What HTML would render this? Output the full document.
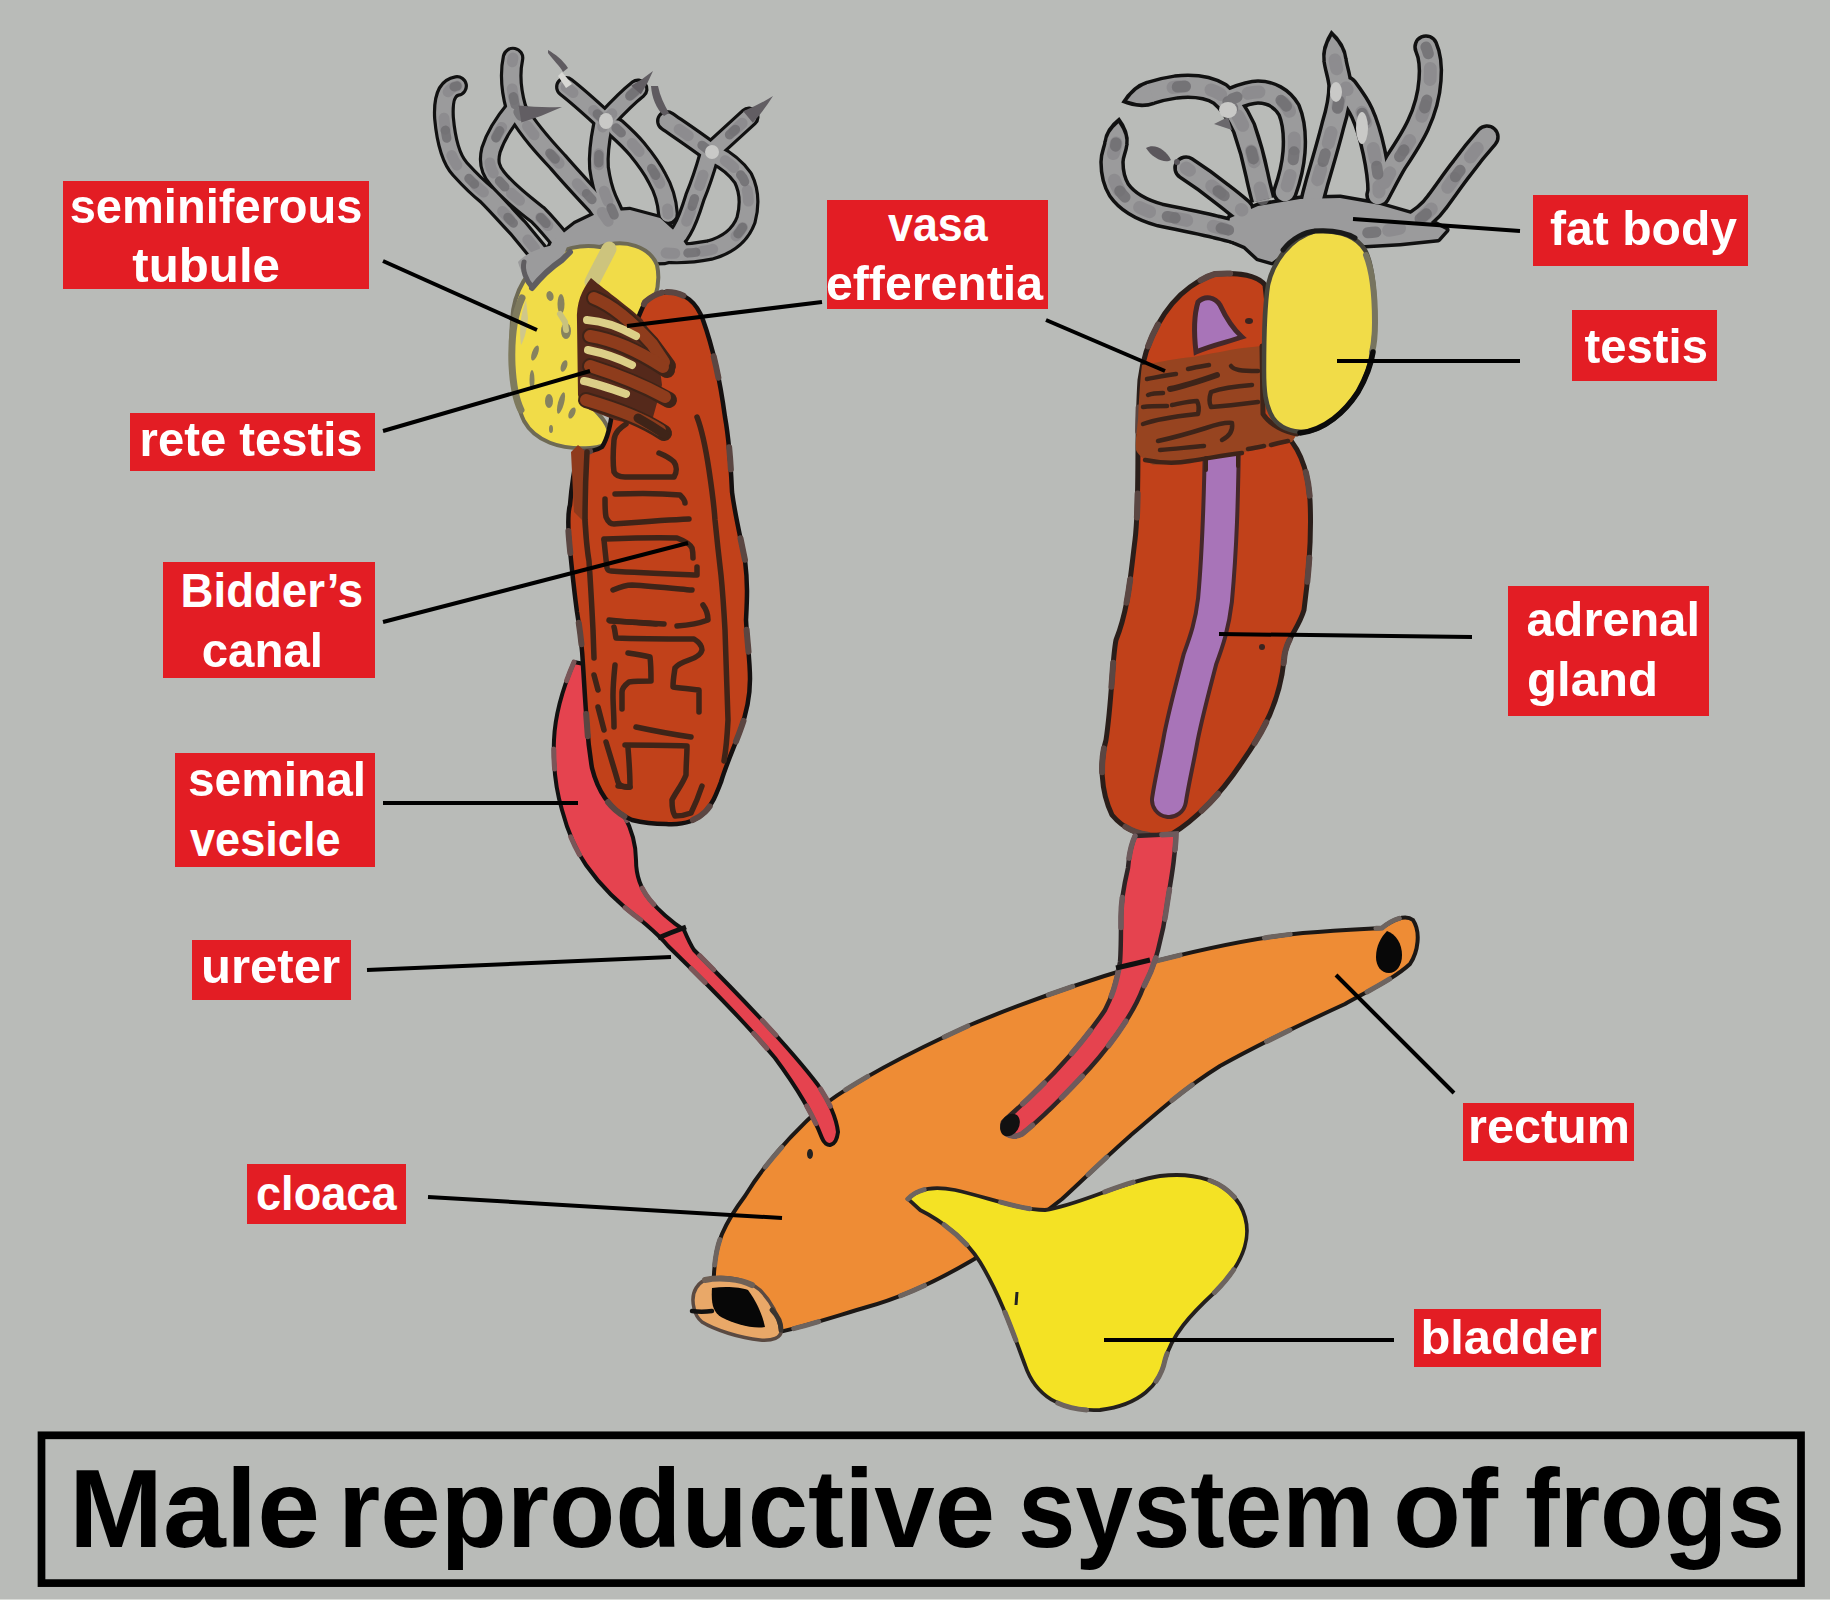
<!DOCTYPE html>
<html><head><meta charset="utf-8"><title>Male reproductive system of frogs</title>
<style>
html,body{margin:0;padding:0;background:#b9bbb8;}
body{width:1830px;height:1600px;overflow:hidden;}
svg{display:block;}
.lb{fill:#e31d24;}
.lt{font-family:"Liberation Sans",sans-serif;font-weight:bold;font-size:49px;fill:#fff;}
.ln{stroke:#000;stroke-width:4;fill:none;}
</style></head><body>
<svg width="1830" height="1600" viewBox="0 0 1830 1600">
<rect width="1830" height="1600" fill="#b9bbb8"/>

<!-- ORGANS -->
<g id="organs">
<!-- CLOACA / RECTUM -->
<defs><path id="clo" d="M775,1333 C745,1335 716,1322 714,1292 C713,1268 716,1248 722,1234 C728,1220 736,1208 745,1196 C762,1168 790,1135 825,1104 C860,1078 915,1050 970,1025 C1030,1000 1090,980 1137,966 C1190,952 1250,938 1303,933 C1340,930 1365,929 1382,928 C1392,920 1405,914 1413,920 C1421,932 1418,952 1410,964 C1395,978 1370,990 1345,1004 C1310,1020 1260,1044 1220,1066 C1185,1088 1160,1110 1130,1136 C1105,1158 1085,1178 1062,1199 C1030,1225 1000,1245 971,1261 C935,1282 900,1298 867,1307 C830,1318 800,1328 775,1333 Z"/></defs>
<use href="#clo" fill="#ee8c35" stroke="#1c1816" stroke-width="4"/>
<use href="#clo" fill="none" stroke="#6d6460" stroke-width="5" stroke-dasharray="26 86" stroke-dashoffset="3" stroke-linecap="round"/>
<path d="M694,1308 C690,1292 698,1280 712,1278 C730,1276 748,1280 760,1290 C770,1300 778,1315 781,1330 C782,1338 772,1341 760,1340 C740,1338 715,1330 702,1322 C697,1318 695,1313 694,1308 Z" fill="#e9a868" stroke="#5a4a42" stroke-width="3.5"/>
<path d="M705,1280 C720,1277 740,1279 752,1285" fill="none" stroke="#6e6056" stroke-width="6" stroke-linecap="round"/>
<path d="M712,1288 C725,1286 740,1287 748,1290 C756,1301 762,1313 765,1327 C752,1329 735,1324 721,1317 C713,1312 711,1304 712,1288 Z" fill="#070707"/>
<path d="M692,1311 C698,1312 705,1312 712,1311" fill="none" stroke="#111" stroke-width="4.5" stroke-linecap="round"/>
<path d="M772,1310 C778,1316 781,1324 781,1330" fill="none" stroke="#3a3430" stroke-width="5" stroke-linecap="round"/>
<path d="M1387,931 C1396,934 1402,944 1402,955 C1402,966 1396,973 1389,973 C1381,973 1376,966 1376,957 C1376,946 1381,937 1387,931 Z" fill="#080808"/>
<ellipse cx="810" cy="1154" rx="3" ry="5" fill="#222"/>

<!-- FAT BODIES -->
<g id="lfb" fill="none" stroke-linecap="round" stroke-linejoin="round">
 <g stroke="#111">
  <path d="M457,86 C446,88 443,100 444,118 C446,140 450,158 460,169 C470,180 478,188 487,195 C500,208 510,220 518,228 C528,240 536,250 546,262" stroke-width="21.9"/>
  <path d="M513,58 C510,72 511,90 516,108" stroke-width="22.7"/>
  <path d="M516,108 C506,120 496,134 491,150 C488,162 490,170 497,178 C508,192 525,205 538,215 C548,225 556,235 565,246" stroke-width="21.9"/>
  <path d="M518,112 C530,132 545,148 558,162 C570,176 583,190 597,205 C602,212 606,218 610,224" stroke-width="22.7"/>
  <path d="M566,87 C580,98 593,110 605,121" stroke-width="21.9"/>
  <path d="M603,125 C600,140 598,155 599,168 C601,182 604,192 607,199 C611,208 614,214 617,222" stroke-width="21.9"/>
  <path d="M616,128 C626,137 632,143 637,149 C646,160 652,168 657,178 C664,190 667,200 668,214" stroke-width="21.9"/>
  <path d="M667,121 C680,130 695,140 711,152" stroke-width="21.9"/>
  <path d="M607,119 C618,107 628,97 638,89" stroke-width="21.1"/>
  <path d="M714,149 C726,138 738,127 749,117" stroke-width="21.1"/>
  <path d="M709,156 C705,170 700,185 695,197 C691,210 688,220 682,230 C680,234 678,236 676,238" stroke-width="21.9"/>
  <path d="M714,154 C726,160 736,168 743,178 C749,190 750,205 746,220 C740,236 728,245 710,250 C695,253 680,254 666,253" stroke-width="21.9"/>
 </g>
 <path d="M543,262 L552,242 L575,224 L600,212 L630,210 L660,218 L680,236 L692,254 L665,262 L600,264 L560,272 Z" fill="#9b9b9c" stroke="#111" stroke-width="6.4"/>
 <g stroke="#9b9b9c">
  <path d="M457,86 C446,88 443,100 444,118 C446,140 450,158 460,169 C470,180 478,188 487,195 C500,208 510,220 518,228 C528,240 536,250 546,262" stroke-width="15.5"/>
  <path d="M513,58 C510,72 511,90 516,108" stroke-width="16.3"/>
  <path d="M516,108 C506,120 496,134 491,150 C488,162 490,170 497,178 C508,192 525,205 538,215 C548,225 556,235 565,246" stroke-width="15.5"/>
  <path d="M518,112 C530,132 545,148 558,162 C570,176 583,190 597,205 C602,212 606,218 610,224" stroke-width="16.3"/>
  <path d="M566,87 C580,98 593,110 605,121" stroke-width="15.5"/>
  <path d="M603,125 C600,140 598,155 599,168 C601,182 604,192 607,199 C611,208 614,214 617,222" stroke-width="15.5"/>
  <path d="M616,128 C626,137 632,143 637,149 C646,160 652,168 657,178 C664,190 667,200 668,214" stroke-width="15.5"/>
  <path d="M667,121 C680,130 695,140 711,152" stroke-width="15.5"/>
  <path d="M607,119 C618,107 628,97 638,89" stroke-width="14.7"/>
  <path d="M714,149 C726,138 738,127 749,117" stroke-width="14.7"/>
  <path d="M709,156 C705,170 700,185 695,197 C691,210 688,220 682,230 C680,234 678,236 676,238" stroke-width="15.5"/>
  <path d="M714,154 C726,160 736,168 743,178 C749,190 750,205 746,220 C740,236 728,245 710,250 C695,253 680,254 666,253" stroke-width="15.5"/>
 </g>
 <path d="M543,262 L552,242 L575,224 L600,212 L630,210 L660,218 L680,236 L692,254 L665,262 L600,264 L560,272 Z" fill="#9b9b9c" stroke="none" transform="translate(0,0)"/>
 <g stroke="#858387" stroke-width="10.8" stroke-dasharray="11 27" opacity="0.6">
  <path d="M457,86 C446,88 443,100 444,118 C446,140 450,158 460,169 C470,180 478,188 487,195 C500,208 510,220 518,228 C528,240 536,250 546,262" stroke-dashoffset="0"/>
  <path d="M513,58 C510,72 511,90 516,108" stroke-dashoffset="7"/>
  <path d="M516,108 C506,120 496,134 491,150 C488,162 490,170 497,178 C508,192 525,205 538,215 C548,225 556,235 565,246" stroke-dashoffset="14"/>
  <path d="M518,112 C530,132 545,148 558,162 C570,176 583,190 597,205 C602,212 606,218 610,224" stroke-dashoffset="21"/>
  <path d="M566,87 C580,98 593,110 605,121" stroke-dashoffset="2"/>
  <path d="M603,125 C600,140 598,155 599,168 C601,182 604,192 607,199 C611,208 614,214 617,222" stroke-dashoffset="9"/>
  <path d="M616,128 C626,137 632,143 637,149 C646,160 652,168 657,178 C664,190 667,200 668,214" stroke-dashoffset="16"/>
  <path d="M667,121 C680,130 695,140 711,152" stroke-dashoffset="23"/>
  <path d="M607,119 C618,107 628,97 638,89" stroke-dashoffset="4"/>
  <path d="M714,149 C726,138 738,127 749,117" stroke-dashoffset="11"/>
  <path d="M709,156 C705,170 700,185 695,197 C691,210 688,220 682,230 C680,234 678,236 676,238" stroke-dashoffset="18"/>
  <path d="M714,154 C726,160 736,168 743,178 C749,190 750,205 746,220 C740,236 728,245 710,250 C695,253 680,254 666,253" stroke-dashoffset="25"/>
 </g>
 <g stroke="#6f6d71" stroke-width="9.3" stroke-dasharray="8 47" opacity="0.8">
  <path d="M457,86 C446,88 443,100 444,118 C446,140 450,158 460,169 C470,180 478,188 487,195 C500,208 510,220 518,228 C528,240 536,250 546,262" stroke-dashoffset="5"/>
  <path d="M513,58 C510,72 511,90 516,108" stroke-dashoffset="16"/>
  <path d="M516,108 C506,120 496,134 491,150 C488,162 490,170 497,178 C508,192 525,205 538,215 C548,225 556,235 565,246" stroke-dashoffset="27"/>
  <path d="M518,112 C530,132 545,148 558,162 C570,176 583,190 597,205 C602,212 606,218 610,224" stroke-dashoffset="3"/>
  <path d="M566,87 C580,98 593,110 605,121" stroke-dashoffset="14"/>
  <path d="M603,125 C600,140 598,155 599,168 C601,182 604,192 607,199 C611,208 614,214 617,222" stroke-dashoffset="25"/>
  <path d="M616,128 C626,137 632,143 637,149 C646,160 652,168 657,178 C664,190 667,200 668,214" stroke-dashoffset="1"/>
  <path d="M667,121 C680,130 695,140 711,152" stroke-dashoffset="12"/>
  <path d="M607,119 C618,107 628,97 638,89" stroke-dashoffset="23"/>
  <path d="M714,149 C726,138 738,127 749,117" stroke-dashoffset="34"/>
  <path d="M709,156 C705,170 700,185 695,197 C691,210 688,220 682,230 C680,234 678,236 676,238" stroke-dashoffset="10"/>
  <path d="M714,154 C726,160 736,168 743,178 C749,190 750,205 746,220 C740,236 728,245 710,250 C695,253 680,254 666,253" stroke-dashoffset="21"/>
 </g>
 <path d="M521.4,122.4 Q542.0,116.4 562,107 Q540.6,108.0 518.6,105.6 Z" fill="#625e63"/>
 <path d="M640.8,94.3 Q647.9,83.5 653,71 Q643.0,79.2 631.2,85.7 Z" fill="#625e63"/>
 <path d="M752.8,122.7 Q763.9,110.5 773,96 Q759.1,104.8 743.2,111.3 Z" fill="#625e63"/>
 <path d="M548,53 C553,60 560,66 563,72 L568,68 C563,60 555,54 548,50 Z" fill="#5f5b60"/>
 <path d="M562,72 L572,84 L566,88 L558,76 Z" fill="#d8d8d4"/>
 <path d="M651,86 C652,98 656,108 664,116 L669,113 C664,104 660,96 658,86 Z" fill="#5f5b60"/>
 <ellipse cx="606" cy="121" rx="7" ry="8" fill="#c9c9c7"/>
 <ellipse cx="712" cy="152" rx="7" ry="7" fill="#c9c9c7"/>
</g>
<g id="rfb" fill="none" stroke-linecap="round" stroke-linejoin="round">
 <path d="M1146.4,80.7 Q1131.7,85.1 1121.3,102.6 Q1140.1,110.3 1154.5,104.9 Z" fill="#111"/>
 <path d="M1347.7,58.9 Q1346.3,43.6 1331.2,29.9 Q1320.0,46.9 1322.4,62.1 Z" fill="#111"/>
 <path d="M1128.6,145.1 Q1130.8,131.8 1119.3,116.9 Q1104.4,128.6 1103.3,141.9 Z" fill="#111"/>
 <g stroke="#111">
  <path d="M1116,143 C1115,151 1112,154 1112,162 C1112,172 1113,180 1119,190 C1128,203 1142,210 1160,215 C1180,219 1200,223 1216,227 C1225,229 1232,231 1240,233" stroke-width="25.5" stroke-linecap="butt"/>
  <path d="M1186,168 C1200,177 1212,186 1222,194 C1230,200 1236,205 1242,210" stroke-width="25.5"/>
  <path d="M1150,93 C1156,91 1162,89 1176,87 C1195,85 1210,88 1220,94 C1230,102 1238,115 1244,128 C1250,145 1254,160 1257,175 C1259,185 1261,192 1263,200" stroke-width="25.5" stroke-linecap="butt"/>
  <path d="M1232,99 C1242,95 1250,92 1258,92 C1270,92 1282,98 1289,110 C1294,122 1295,138 1294,152 C1293,165 1290,178 1285,192" stroke-width="25.5"/>
  <path d="M1335,60 C1336,68 1339,75 1340,85 C1340,100 1337,112 1333,125 C1328,145 1322,165 1317,182 C1315,190 1313,196 1312,202" stroke-width="25.5" stroke-linecap="butt"/>
  <path d="M1346,88 C1352,96 1358,104 1362,113 C1367,124 1371,138 1374,152 C1377,166 1379,180 1379,192" stroke-width="25.5"/>
  <path d="M1426,47 C1430,56 1431,68 1430,80 C1429,95 1425,110 1418,125 C1412,138 1404,150 1396,162 C1390,172 1385,182 1378,195" stroke-width="25.5"/>
  <path d="M1487,137 C1479,146 1470,157 1462,168 C1454,178 1446,190 1437,202 C1430,212 1420,220 1408,226 C1395,230 1380,232 1364,233" stroke-width="25.5"/>
 </g>
 <path d="M1226,238 L1230,218 L1258,206 L1300,199 L1340,198 L1380,205 L1418,216 L1446,230 L1438,239 L1400,243 L1365,245 L1305,241 L1288,250 L1272,262 L1258,258 L1245,246 Z" fill="#9b9b9c" stroke="#111" stroke-width="7.0"/>
 <g stroke="#9b9b9c">
  <path d="M1116,143 C1115,151 1112,154 1112,162 C1112,172 1113,180 1119,190 C1128,203 1142,210 1160,215 C1180,219 1200,223 1216,227 C1225,229 1232,231 1240,233" stroke-width="18.5" stroke-linecap="butt"/>
  <path d="M1186,168 C1200,177 1212,186 1222,194 C1230,200 1236,205 1242,210" stroke-width="18.5"/>
  <path d="M1150,93 C1156,91 1162,89 1176,87 C1195,85 1210,88 1220,94 C1230,102 1238,115 1244,128 C1250,145 1254,160 1257,175 C1259,185 1261,192 1263,200" stroke-width="18.5" stroke-linecap="butt"/>
  <path d="M1232,99 C1242,95 1250,92 1258,92 C1270,92 1282,98 1289,110 C1294,122 1295,138 1294,152 C1293,165 1290,178 1285,192" stroke-width="18.5"/>
  <path d="M1335,60 C1336,68 1339,75 1340,85 C1340,100 1337,112 1333,125 C1328,145 1322,165 1317,182 C1315,190 1313,196 1312,202" stroke-width="18.5" stroke-linecap="butt"/>
  <path d="M1346,88 C1352,96 1358,104 1362,113 C1367,124 1371,138 1374,152 C1377,166 1379,180 1379,192" stroke-width="18.5"/>
  <path d="M1426,47 C1430,56 1431,68 1430,80 C1429,95 1425,110 1418,125 C1412,138 1404,150 1396,162 C1390,172 1385,182 1378,195" stroke-width="18.5"/>
  <path d="M1487,137 C1479,146 1470,157 1462,168 C1454,178 1446,190 1437,202 C1430,212 1420,220 1408,226 C1395,230 1380,232 1364,233" stroke-width="18.5"/>
 </g>
 <path d="M1226,238 L1230,218 L1258,206 L1300,199 L1340,198 L1380,205 L1418,216 L1446,230 L1438,239 L1400,243 L1365,245 L1305,241 L1288,250 L1272,262 L1258,258 L1245,246 Z" fill="#9b9b9c" stroke="none" transform="translate(0,0)"/>
 <path d="M1148.0,83.9 Q1136.0,87.5 1127.2,100.6 Q1142.1,105.8 1153.9,101.5 Z" fill="#9b9b9c"/>
 <path d="M1344.3,59.8 Q1343.1,47.4 1332.0,36.2 Q1324.0,49.8 1325.9,62.1 Z" fill="#9b9b9c"/>
 <path d="M1125.1,145.1 Q1126.7,134.8 1118.5,123.2 Q1107.6,132.4 1106.7,142.8 Z" fill="#9b9b9c"/>
 <g stroke="#858387" stroke-width="12.9" stroke-dasharray="11 27" opacity="0.6">
  <path d="M1116,143 C1115,151 1112,154 1112,162 C1112,172 1113,180 1119,190 C1128,203 1142,210 1160,215 C1180,219 1200,223 1216,227 C1225,229 1232,231 1240,233" stroke-dashoffset="0"/>
  <path d="M1186,168 C1200,177 1212,186 1222,194 C1230,200 1236,205 1242,210" stroke-dashoffset="7"/>
  <path d="M1150,93 C1156,91 1162,89 1176,87 C1195,85 1210,88 1220,94 C1230,102 1238,115 1244,128 C1250,145 1254,160 1257,175 C1259,185 1261,192 1263,200" stroke-dashoffset="14"/>
  <path d="M1232,99 C1242,95 1250,92 1258,92 C1270,92 1282,98 1289,110 C1294,122 1295,138 1294,152 C1293,165 1290,178 1285,192" stroke-dashoffset="21"/>
  <path d="M1335,60 C1336,68 1339,75 1340,85 C1340,100 1337,112 1333,125 C1328,145 1322,165 1317,182 C1315,190 1313,196 1312,202" stroke-dashoffset="2"/>
  <path d="M1346,88 C1352,96 1358,104 1362,113 C1367,124 1371,138 1374,152 C1377,166 1379,180 1379,192" stroke-dashoffset="9"/>
  <path d="M1426,47 C1430,56 1431,68 1430,80 C1429,95 1425,110 1418,125 C1412,138 1404,150 1396,162 C1390,172 1385,182 1378,195" stroke-dashoffset="16"/>
  <path d="M1487,137 C1479,146 1470,157 1462,168 C1454,178 1446,190 1437,202 C1430,212 1420,220 1408,226 C1395,230 1380,232 1364,233" stroke-dashoffset="23"/>
 </g>
 <g stroke="#6f6d71" stroke-width="11.1" stroke-dasharray="8 47" opacity="0.8">
  <path d="M1116,143 C1115,151 1112,154 1112,162 C1112,172 1113,180 1119,190 C1128,203 1142,210 1160,215 C1180,219 1200,223 1216,227 C1225,229 1232,231 1240,233" stroke-dashoffset="5"/>
  <path d="M1186,168 C1200,177 1212,186 1222,194 C1230,200 1236,205 1242,210" stroke-dashoffset="16"/>
  <path d="M1150,93 C1156,91 1162,89 1176,87 C1195,85 1210,88 1220,94 C1230,102 1238,115 1244,128 C1250,145 1254,160 1257,175 C1259,185 1261,192 1263,200" stroke-dashoffset="27"/>
  <path d="M1232,99 C1242,95 1250,92 1258,92 C1270,92 1282,98 1289,110 C1294,122 1295,138 1294,152 C1293,165 1290,178 1285,192" stroke-dashoffset="3"/>
  <path d="M1335,60 C1336,68 1339,75 1340,85 C1340,100 1337,112 1333,125 C1328,145 1322,165 1317,182 C1315,190 1313,196 1312,202" stroke-dashoffset="14"/>
  <path d="M1346,88 C1352,96 1358,104 1362,113 C1367,124 1371,138 1374,152 C1377,166 1379,180 1379,192" stroke-dashoffset="25"/>
  <path d="M1426,47 C1430,56 1431,68 1430,80 C1429,95 1425,110 1418,125 C1412,138 1404,150 1396,162 C1390,172 1385,182 1378,195" stroke-dashoffset="1"/>
  <path d="M1487,137 C1479,146 1470,157 1462,168 C1454,178 1446,190 1437,202 C1430,212 1420,220 1408,226 C1395,230 1380,232 1364,233" stroke-dashoffset="12"/>
 </g>
 <path d="M1146,148 C1155,143 1166,150 1171,160 C1165,164 1152,158 1146,148 Z" fill="#5b575c"/>
 <circle cx="1177" cy="162" r="3" fill="#5b575c"/>
 <path d="M1214,124 L1228,117 L1232,130 Z" fill="#6a686c"/>
 <ellipse cx="1228" cy="110" rx="9" ry="8" fill="#c9c9c7"/>
 <ellipse cx="1336" cy="92" rx="6" ry="10" fill="#c9c9c7"/>
 <ellipse cx="1362" cy="128" rx="6" ry="16" fill="#c9c9c7"/>
</g>
<!-- LEFT SEMINAL VESICLE + URETER -->
<defs><path id="lsv" d="M574,662 C562,690 555,715 554,740 C553,765 556,790 562,810 C566,825 572,845 586,865 C600,885 620,905 642,921 C650,928 660,936 668,946 C700,977 740,1016 775,1058 C795,1085 812,1112 822,1138 C826,1148 836,1148 838,1132 C836,1115 828,1100 818,1085 C790,1048 740,996 694,950 C690,944 687,937 684,930 C672,922 660,912 650,900 C640,888 636,875 636,860 C636,845 632,830 624,815 C610,790 596,760 590,730 C586,705 584,685 584,664 Z"/></defs>
<use href="#lsv" fill="#e5434f" stroke="#111" stroke-width="4"/>
<use href="#lsv" fill="none" stroke="#7a5658" stroke-width="5" stroke-dasharray="20 70" stroke-dashoffset="0" stroke-linecap="round"/>
<path d="M658,938 C665,935 675,931 686,927" stroke="#111" stroke-width="5" fill="none"/>

<!-- LEFT TESTIS -->
<defs><path id="lts" d="M550,257 C562,249 580,244 600,247 C625,238 650,247 657,265 C662,288 652,308 642,320 L600,300 L590,405 C600,415 610,425 610,438 C606,446 598,448 590,448 C560,450 535,441 524,421 C512,396 510,352 512,320 C514,290 528,268 550,257 Z"/></defs>
<use href="#lts" fill="#f1dc48" stroke="#6e6a55" stroke-width="4"/>
<!-- stem patch --><path d="M518,262 C528,251 548,244 568,244 L562,260 C552,268 542,276 534,288 C527,282 521,273 518,262 Z" fill="#9b9b9c"/><path d="M532,288 C540,278 550,268 562,260 L570,252" stroke="#5f5d60" stroke-width="6" fill="none" stroke-linecap="round"/><path d="M524,262 C522,270 526,280 532,287" stroke="#5f5d60" stroke-width="5" fill="none" stroke-linecap="round"/>
<path d="M522,298 C514,315 511,340 512,365 C513,385 516,400 521,410" fill="none" stroke="#7e7a5e" stroke-width="7" stroke-linecap="round"/>
<path d="M526,300 C520,315 519,330 521,345 C524,340 527,330 528,318 Z" fill="#cfc78a"/>
<g fill="#86825f">
 <ellipse cx="550" cy="296" rx="3.5" ry="5" transform="rotate(-15 550 296)"/>
 <ellipse cx="561" cy="304" rx="3.5" ry="10"/>
 <ellipse cx="566" cy="331" rx="5" ry="8"/>
 <ellipse cx="535" cy="353" rx="3" ry="8" transform="rotate(20 535 353)"/>
 <ellipse cx="564" cy="366" rx="3" ry="6" transform="rotate(20 564 366)"/>
 <ellipse cx="532" cy="380" rx="2.5" ry="10"/>
 <ellipse cx="549" cy="401" rx="4" ry="7"/>
 <ellipse cx="561" cy="403" rx="3" ry="11" transform="rotate(15 561 403)"/>
 <ellipse cx="572" cy="413" rx="3" ry="6" transform="rotate(25 572 413)"/>
 <ellipse cx="551" cy="429" rx="2" ry="4"/>
</g>
<path d="M560,314 L565,322 L566,330" stroke="#c9c27e" stroke-width="6" fill="none" stroke-linecap="round"/>
<path d="M609,249 C604,259 598,270 592,282" stroke="#cdc47d" stroke-width="15" fill="none" stroke-linecap="round"/>
<!-- LEFT KIDNEY -->
<defs><path id="lkd" d="M667,292 C685,292 697,303 703,320 C712,345 720,380 725,417 C730,445 731,470 732,492 C735,515 740,535 745,560 C748,585 747,600 746,620 C747,640 750,660 750,679 C750,700 746,715 740,731 C733,750 726,765 721,782 C716,795 712,805 705,812 C695,822 680,825 666,824 C650,824 640,822 632,820 C620,815 612,808 605,798 C598,788 595,780 592,768 C589,750 588,740 587,725 C585,700 584,680 583,665 C582,645 580,630 577,612 C574,590 572,570 570,550 C568,530 567,515 570,505 C572,480 575,465 578,452 C588,452 596,451 602,447 C608,438 611,424 613,405 C620,370 632,330 645,302 C652,296 660,292 667,292 Z"/></defs>
<use href="#lkd" fill="#c1411a" stroke="#141010" stroke-width="4.5"/>
<use href="#lkd" fill="none" stroke="#5b4642" stroke-width="6" stroke-dasharray="22 70" stroke-dashoffset="5" stroke-linecap="round"/>
<path d="M571,452 L578,445 L586,452 L588,520 L590,560 L586,560 L582,520 L574,512 Z" fill="#8f3a1c"/>
<!-- left rete -->
<path d="M591,278 C600,286 620,300 642,319 L656,340 L662,385 L650,428 L615,420 L590,410 C584,405 579,400 578,395 L577,322 C576,302 582,290 591,278 Z" fill="#55291b"/>
<g stroke-linecap="round" fill="none">
 <g stroke="#3f2418" stroke-width="16">
  <path d="M594,298 C612,305 632,322 652,344 L668,366"/>
  <path d="M590,336 C615,340 640,352 667,370"/>
  <path d="M590,366 C615,374 645,386 669,400"/>
  <path d="M586,400 C610,407 640,417 664,433"/>
 </g>
 <g stroke="#8e3c1c" stroke-width="12">
  <path d="M594,298 C612,305 632,322 652,344 L664,362"/>
  <path d="M590,336 C615,340 640,352 663,367"/>
  <path d="M590,366 C615,374 645,386 665,397"/>
  <path d="M586,400 C610,407 640,417 660,430"/>
 </g>
 <path d="M587,320 C602,321 618,326 636,336" stroke="#dccf88" stroke-width="8"/>
 <path d="M588,350 C603,353 618,358 632,365" stroke="#dccf88" stroke-width="8"/>
 <path d="M584,381 C598,384 612,389 626,394" stroke="#dccf88" stroke-width="8"/>
</g>
<g stroke="#3f2418" stroke-width="5.5" fill="none" stroke-linecap="round" stroke-linejoin="round">
 <path d="M697,417 C702,430 706,450 709,470 C712,490 714,505 715,520 C717,540 719,558 721,575 C723,595 724,612 725,630 C726,660 727,690 728,720 C727,740 726,750 724,761"/>
 <path d="M587,452 C586,470 585,500 585,520 C586,540 588,555 589,561 C591,590 592,610 593,630 L594,658"/>
 <path d="M638,418 C645,422 655,428 664,434" stroke-width="9"/>
 <path d="M626,424 C620,428 615,432 614,440 C613,452 613,465 614,472 C616,476 620,477 625,477 C640,477 660,477 674,477 C677,472 677,466 674,462 C670,458 664,455 659,453"/>
 <path d="M615,494 C640,493 660,493 680,495 C683,498 685,500 685,503"/>
 <path d="M605,499 C605,505 605,512 606,517 C608,522 610,524 614,524 C640,522 665,520 689,519"/>
 <path d="M604,539 C630,538 655,537 677,538 C685,541 690,544 692,548 C693,552 693,556 693,558"/>
 <path d="M604,540 C605,550 606,560 607,568 C608,571 609,571 611,571 C640,573 670,574 697,575 L697,567"/>
 <path d="M613,590 C620,587 625,585 632,585 C650,586 670,588 692,590"/>
 <path d="M609,620 C625,622 640,623 656,624"/>
 <path d="M677,626 C690,625 700,623 708,620 C708,614 706,609 703,605"/>
 <path d="M610,621 C630,622 650,623 664,624"/>
 <path d="M614,627 C615,630 615,634 616,638 C640,639 670,639 694,639 C699,642 702,646 702,650 C701,655 695,658 689,660 C683,662 678,664 675,668 C674,675 673,680 673,687 C680,688 690,689 699,690 L699,712"/>
 <path d="M628,653 C635,654 642,655 650,657 C651,665 651,673 651,681 C643,681 636,681 629,682 C625,685 622,688 622,692 L622,709"/>
 <path d="M615,665 C614,675 613,685 613,695 C613,705 614,715 614,727"/>
 <path d="M594,675 L598,690 M598,707 L604,730 M606,742 C610,755 614,768 618,782 C620,786 625,788 630,787"/>
 <path d="M636,727 C650,730 670,734 691,737"/>
 <path d="M625,745 C645,745 665,745 687,746 C687,755 686,765 686,775 C682,785 676,792 672,800 C672,808 673,813 675,816 C681,816 686,815 691,813 C695,805 699,795 702,786"/>
 <path d="M628,748 C629,760 630,775 630,787 L618,786"/>
</g>
<!-- RIGHT KIDNEY -->
<defs><path id="rkd" d="M1215,274 C1240,272 1258,276 1265,285 L1280,430 C1300,445 1308,470 1310,500 C1312,540 1308,580 1304,610 C1298,630 1285,640 1284,660 C1280,700 1265,730 1240,765 C1220,795 1195,820 1172,834 C1150,838 1128,834 1112,815 C1100,790 1100,760 1106,740 C1112,700 1112,660 1116,640 C1128,610 1130,580 1135,540 C1140,500 1136,440 1140,380 C1145,340 1165,305 1190,287 C1200,280 1208,276 1215,274 Z"/></defs>
<use href="#rkd" fill="#c1411a" stroke="#2a1e1a" stroke-width="5"/>
<use href="#rkd" fill="none" stroke="#5b4642" stroke-width="6" stroke-dasharray="24 62" stroke-dashoffset="9" stroke-linecap="round"/>
<!-- adrenal strip -->
<path d="M1222,440 C1221,500 1220,545 1215,600 C1212,625 1207,640 1200,659 C1192,690 1186,712 1181,737 C1177,760 1172,780 1169,800" fill="none" stroke="#45282a" stroke-width="38" stroke-linecap="round"/>
<path d="M1222,440 C1221,500 1220,545 1215,600 C1212,625 1207,640 1200,659 C1192,690 1186,712 1181,737 C1177,760 1172,780 1169,800" fill="none" stroke="#a874b8" stroke-width="30" stroke-linecap="round"/>
<!-- right rete band -->
<path d="M1142,365 C1160,362 1178,358 1193,357 C1210,354 1228,350 1243,348 L1262,346 L1263,414 C1270,425 1285,432 1297,434 L1292,442 C1280,444 1270,446 1255,450 C1240,453 1222,456 1204,458 C1188,461 1170,465 1153,465 C1145,460 1138,455 1136,450 C1135,440 1137,430 1138,420 C1139,400 1140,380 1142,365 Z" fill="#974420"/>
<g stroke="#3e2419" fill="none" stroke-linecap="round" stroke-linejoin="round" stroke-width="4.5">
 <path d="M1147,379 C1158,377 1168,375 1176,374"/>
 <path d="M1188,369 C1196,367 1203,366 1209,365"/>
 <path d="M1170,389 C1185,386 1200,381 1217,375" stroke-width="6"/>
 <path d="M1231,366 C1234,370 1240,371 1258,371"/>
 <path d="M1148,395 C1153,393 1158,393 1163,393"/>
 <path d="M1252,385 C1238,386 1222,388 1211,392 C1209,398 1209,403 1211,407 C1225,406 1242,404 1258,402"/>
 <path d="M1172,405 C1182,403 1190,401 1197,401 C1199,405 1199,410 1198,414 C1180,416 1160,418 1143,424"/>
 <path d="M1143,407 C1150,406 1160,406 1167,406"/>
 <path d="M1158,441 C1172,438 1190,433 1206,428 C1215,425 1225,422 1232,423 C1233,430 1230,436 1222,440"/>
 <path d="M1160,450 C1175,449 1190,447 1204,446"/>
 <path d="M1248,449 C1254,448 1259,447 1264,446 M1271,445 C1278,443 1283,442 1288,441"/>
 <path d="M1145,460 C1160,463 1175,464 1190,461 C1210,458 1225,455 1242,453"/>
 <path d="M1262,346 L1263,414 C1270,425 1285,432 1297,434" stroke-width="5"/>
 <path d="M1206,458 L1206,470 M1238,456 L1238,466" stroke-width="4"/>
</g>
<!-- adrenal top blob -->
<path d="M1198,302 C1205,295 1215,297 1220,305 C1226,318 1232,328 1242,337 C1228,342 1212,345 1196,352 C1194,335 1194,315 1198,302 Z" fill="#a874b8" stroke="#45282a" stroke-width="5"/>
<ellipse cx="1249" cy="321" rx="4" ry="3" fill="#3a2420"/>
<ellipse cx="1262" cy="647" rx="3" ry="3" fill="#3a2420"/>
<!-- RIGHT TESTIS -->
<defs><path id="rts" d="M1315,231 C1338,230 1356,235 1365,250 C1373,265 1375,295 1375,322 C1374,350 1370,372 1358,392 C1345,412 1325,430 1305,432 C1290,432 1280,428 1273,418 C1265,405 1264,390 1264,370 C1264,340 1264,310 1268,285 C1273,262 1290,238 1315,231 Z"/></defs>
<use href="#rts" fill="#f1dc48" stroke="#46443c" stroke-width="4.5"/>
<path d="M1366,255 C1372,270 1375,295 1375,322 C1375,335 1374,345 1372,352" fill="none" stroke="#77745f" stroke-width="6" stroke-linecap="round"/>
<path d="M1300,433 C1325,430 1345,412 1358,392 C1366,378 1371,365 1373,352" fill="none" stroke="#0b0b0b" stroke-width="5.5" stroke-linecap="round"/>
<path d="M1283,250 C1292,238 1305,232 1315,231 C1330,230 1345,232 1355,238" fill="none" stroke="#1a1a1a" stroke-width="5" stroke-linecap="round"/>
<!-- RIGHT URETER -->
<defs><path id="rur" d="M1135,836 C1131,845 1129,855 1128,868 C1124,885 1121,900 1121,917 C1121,935 1121,950 1120,962 C1117,980 1113,995 1105,1010 C1085,1040 1060,1068 1035,1092 C1022,1105 1010,1115 1003,1122 C1000,1132 1010,1140 1022,1134 C1040,1120 1065,1095 1090,1068 C1115,1040 1135,1010 1143,988 C1150,975 1155,962 1158,950 C1162,935 1165,920 1167,905 C1170,885 1173,870 1174,858 C1175,850 1176,842 1176,834 Z"/></defs>
<use href="#rur" fill="#e5434f" stroke="#2e2526" stroke-width="4.5"/>
<use href="#rur" fill="none" stroke="#6e5a5c" stroke-width="5.5" stroke-dasharray="30 40" stroke-dashoffset="7" stroke-linecap="round"/>
<path d="M1116,968 C1125,966 1138,963 1150,960" stroke="#111" stroke-width="5" fill="none"/>
<ellipse cx="1010" cy="1125" rx="9" ry="12" transform="rotate(30 1010 1125)" fill="#111"/>

<!-- BLADDER -->
<defs><path id="bla" d="M908,1199 C918,1188 935,1186 955,1190 C990,1198 1020,1210 1045,1210 C1080,1205 1120,1182 1160,1176 C1195,1172 1225,1180 1240,1205 C1255,1232 1245,1262 1215,1292 C1190,1315 1172,1335 1165,1360 C1160,1385 1140,1405 1100,1410 C1060,1412 1035,1395 1025,1365 C1012,1330 1000,1295 980,1262 C965,1238 940,1220 920,1210 Z"/></defs>
<use href="#bla" fill="#f4e224" stroke="#24201e" stroke-width="3.8"/>
<use href="#bla" fill="none" stroke="#6d6460" stroke-width="5" stroke-dasharray="30 78" stroke-dashoffset="11" stroke-linecap="round"/>
<path d="M1017,1292 L1016,1305" stroke="#222" stroke-width="3"/>
</g>

<!-- leader lines -->
<g class="ln">
<path d="M383,261 L537,330"/>
<path d="M822,302 L627,326"/>
<path d="M383,431 L590,371"/>
<path d="M383,622 L688,543"/>
<path d="M383,803 L578,803"/>
<path d="M367,970 L671,957"/>
<path d="M428,1197 L782,1218"/>
<path d="M1046,320 L1165,371"/>
<path d="M1520,231 L1353,219"/>
<path d="M1520,361 L1337,361"/>
<path d="M1472,637 L1219,634"/>
<path d="M1454,1093 L1336,975"/>
<path d="M1394,1340 L1104,1340"/>
</g>

<!-- labels -->
<g>
<rect class="lb" x="63" y="181" width="306" height="108"/>
<rect class="lb" x="827" y="200" width="221" height="109"/>
<rect class="lb" x="1533" y="195" width="215" height="71"/>
<rect class="lb" x="1572" y="310" width="145" height="71"/>
<rect class="lb" x="130" y="413" width="245" height="58"/>
<rect class="lb" x="163" y="562" width="212" height="116"/>
<rect class="lb" x="1508" y="586" width="201" height="130"/>
<rect class="lb" x="175" y="753" width="200" height="114"/>
<rect class="lb" x="192" y="940" width="159" height="60"/>
<rect class="lb" x="1463" y="1103" width="171" height="58"/>
<rect class="lb" x="247" y="1164" width="159" height="60"/>
<rect class="lb" x="1414" y="1309" width="187" height="58"/>
</g>
<g class="lt">
<text x="69.7" y="223" textLength="292.8" lengthAdjust="spacingAndGlyphs">seminiferous</text>
<text x="132.3" y="282" textLength="147.7" lengthAdjust="spacingAndGlyphs">tubule</text>
<text x="888.0" y="241" textLength="99.6" lengthAdjust="spacingAndGlyphs">vasa</text>
<text x="826.0" y="300" textLength="217.0" lengthAdjust="spacingAndGlyphs">efferentia</text>
<text x="1550.0" y="245" textLength="187.0" lengthAdjust="spacingAndGlyphs">fat body</text>
<text x="1584.6" y="363" textLength="123.4" lengthAdjust="spacingAndGlyphs">testis</text>
<text x="139.6" y="456" textLength="222.9" lengthAdjust="spacingAndGlyphs">rete testis</text>
<text x="180.6" y="607" textLength="182.4" lengthAdjust="spacingAndGlyphs">Bidder’s</text>
<text x="201.7" y="667" textLength="121.3" lengthAdjust="spacingAndGlyphs">canal</text>
<text x="1526.5" y="636" textLength="173.5" lengthAdjust="spacingAndGlyphs">adrenal</text>
<text x="1527.0" y="696" textLength="131.0" lengthAdjust="spacingAndGlyphs">gland</text>
<text x="188.0" y="796" textLength="178.0" lengthAdjust="spacingAndGlyphs">seminal</text>
<text x="190.0" y="856" textLength="150.6" lengthAdjust="spacingAndGlyphs">vesicle</text>
<text x="201.0" y="983" textLength="139.0" lengthAdjust="spacingAndGlyphs">ureter</text>
<text x="1468.0" y="1143" textLength="162.0" lengthAdjust="spacingAndGlyphs">rectum</text>
<text x="256.0" y="1210" textLength="140.6" lengthAdjust="spacingAndGlyphs">cloaca</text>
<text x="1420.4" y="1354" textLength="176.6" lengthAdjust="spacingAndGlyphs">bladder</text>
</g>

<!-- title -->
<rect x="41.5" y="1435.3" width="1759.5" height="147.8" fill="none" stroke="#000" stroke-width="7.7"/>
<g style="font-family:'Liberation Sans',sans-serif;font-weight:bold;font-size:112px;fill:#000;">
<text x="69.0" y="1547" textLength="251.0" lengthAdjust="spacingAndGlyphs">Male</text>
<text x="338.0" y="1547" textLength="657.0" lengthAdjust="spacingAndGlyphs">reproductive</text>
<text x="1018.0" y="1547" textLength="356.0" lengthAdjust="spacingAndGlyphs">system</text>
<text x="1393.0" y="1547" textLength="105.0" lengthAdjust="spacingAndGlyphs">of</text>
<text x="1525.0" y="1547" textLength="260.0" lengthAdjust="spacingAndGlyphs">frogs</text>
</g>
<rect id="bottomstrip" x="0" y="1599" width="1830" height="1" fill="#d9dbd7"/>
</svg>
</body></html>
